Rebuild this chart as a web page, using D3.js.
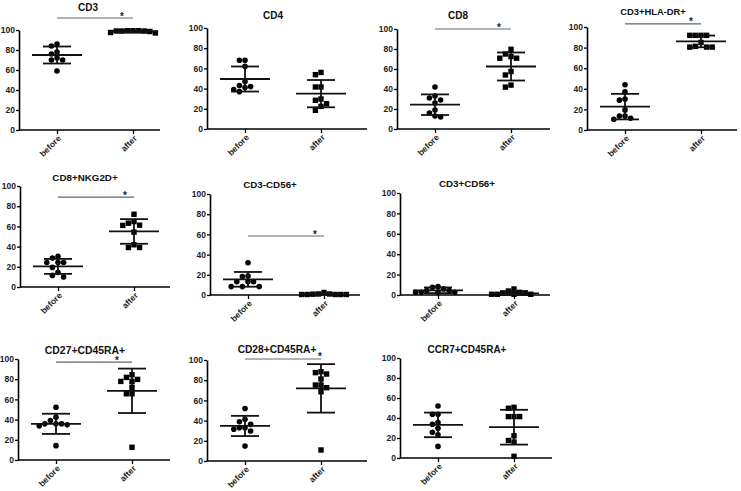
<!DOCTYPE html>
<html>
<head>
<meta charset="utf-8">
<script src="https://cdn.jsdelivr.net/npm/d3@7"></script>
<style>
  body { margin: 0; background: #fff; }
  svg text { font-family: "Liberation Sans", Arial, sans-serif; }
</style>
</head>
<body>
<div id="chart"></div>
<script>
// panel names
var titles = ["CD3", "CD4", "CD8", "CD3+HLA-DR+", "CD8+NKG2D+", "CD3-CD56+", "CD3+CD56+", "CD27+CD45RA+", "CD28+CD45RA+", "CCR7+CD45RA+"]
var groups = ["before", "after"]
var yTicks = [0, 20, 40, 60, 80, 100]

// individual values, one list per panel
var beforeValues = [
  [86, 84, 76, 78, 72, 70, 70, 59],
  [68, 68, 62, 47, 41, 43, 42, 37, 39],
  [42, 31, 33, 29, 26, 19, 16, 12, 13],
  [44, 37, 29, 30, 19.5, 13.6, 13.6, 10.4, 11.4],
  [28.6, 30.3, 24.3, 24.3, 24.3, 19.4, 14.5, 9.9, 11.5],
  [32, 18.2, 18.8, 13.2, 13.2, 13.2, 8.3, 8.3, 8.3],
  [6, 8.2, 7.5, 4.3, 4.3, 2.6, 2.6, 2.6, 2.6],
  [52.3, 42.4, 39, 35.8, 33.8, 34.8, 35.8, 35.8, 14.2],
  [52, 41.3, 38.9, 33, 36.3, 33, 31.4, 29.7, 14.9],
  [52, 43.7, 43.7, 35.4, 33.8, 29.8, 25.8, 23.2, 11.6]
]
var afterValues = [
  [99.3, 99.3, 98.5, 99, 97, 99, 97.5, 99, 99.3],
  [56, 53.8, 41.6, 41.6, 28.4, 29.7, 25, 22.4, 18.5],
  [79.7, 72.4, 70.8, 70.8, 75, 57.5, 54, 41.9, 43.9],
  [91.9, 91.9, 91.9, 91.9, 85, 80.5, 80.5, 80.5, 81.2],
  [72, 64.8, 61.2, 63.2, 54.3, 41.8, 39.1, 39.1, 61],
  [0.5, 0.5, 1, 2.5, 1, 0.5, 0.5, 0.5, 0.8],
  [2, 5.9, 2.6, 3.9, 0.7, 0.7, 0.7, 0.7, 2],
  [84.4, 79.8, 77.8, 81.8, 77.8, 71.9, 65.6, 65.6, 12.6],
  [87.5, 86.1, 88.4, 81.2, 75.2, 75.2, 72.6, 68.6, 10.9],
  [49.7, 50.7, 41.4, 41.4, 41.4, 22.2, 17.5, 15.9, 1.7]
]

// mean and SD as drawn
var beforeMean = [75, 49.5, 24.3, 22.7, 20.4, 15.5, 4.6, 35.8, 34.7, 33.1]
var beforeSD = [8.5, 12.4, 10.3, 12.4, 7.4, 7.3, 2.8, 10, 10, 12.3]
var afterMean = [98.5, 35, 62.5, 86, 55, 0.8, 1.6, 68.5, 71.9, 30.8]
var afterSD = [1, 13.5, 14, 5.7, 12.2, 0.7, 2, 22, 24, 17.4]

// level of the significance bar (null = none)
var sigLevel = [112, null, 100, 103, 89, 58.4, null, 97, 101, null]

// where each panel sits on the page
var layout = [
  { x: 19, top: 30, bot: 130, len: 141, tx: 88, ty: 11, fs: 10, star: -11 },
  { x: 207, top: 28, bot: 129, len: 160, tx: 273, ty: 19, fs: 10, star: 0 },
  { x: 397, top: 29, bot: 129, len: 153, tx: 458, ty: 19, fs: 10, star: -12 },
  { x: 587, top: 27, bot: 130, len: 150, tx: 653, ty: 15, fs: 9.4, star: -10 },
  { x: 20, top: 186, bot: 287, len: 150, tx: 85, ty: 181, fs: 9.8, star: -9 },
  { x: 210, top: 194, bot: 295, len: 150, tx: 270, ty: 188, fs: 9.8, star: -9 },
  { x: 400, top: 193, bot: 295, len: 150, tx: 467, ty: 187, fs: 9.8, star: 0 },
  { x: 18, top: 359, bot: 460, len: 152, tx: 85, ty: 353.5, fs: 10.4, star: -15 },
  { x: 207, top: 360, bot: 461, len: 160, tx: 277, ty: 353, fs: 10.2, star: -1 },
  { x: 400, top: 358, bot: 458, len: 152, tx: 467, ty: 353, fs: 10, star: 0 }
]

var svg = d3.select("#chart")
  .append("svg")
  .attr("width", 741)
  .attr("height", 491)

// simple beeswarm so overlapping points spread sideways
function swarm(vals, y, cx, d) {
  var placed = []
  var order = vals.map((v, i) => i).sort((a, b) => vals[b] - vals[a])
  var out = new Array(vals.length)
  order.forEach(i => {
    var py = y(vals[i])
    for (var k = 0; k < 40; k++) {
      var off = (k % 2 === 0 ? 1 : -1) * Math.ceil(k / 2) * d
      var px = cx + off
      var hit = placed.some(p => Math.hypot(p[0] - px, p[1] - py) < d - 0.3)
      if (!hit) { placed.push([px, py]); out[i] = [px, py]; break }
    }
  })
  return out
}

titles.forEach((t, i) => {
  var L = layout[i]
  var g = svg.append("g")

  var y = d3.scaleLinear().domain([0, 100]).range([L.bot, L.top])
  var x = d3.scalePoint().domain(groups).range([L.x + 38, L.x + 114])

  // y axis
  var ya = g.append("g")
    .attr("transform", "translate(" + L.x + ",0)")
    .call(d3.axisLeft(y).tickValues(yTicks).tickSize(3).tickSizeOuter(0).tickPadding(1))
  ya.select(".domain").attr("stroke", "#000").attr("stroke-width", 1.6)
  ya.selectAll(".tick line").attr("stroke", "#000").attr("stroke-width", 1.3)
  ya.selectAll(".tick text")
    .attr("font-size", 8.5).attr("font-weight", "bold").attr("fill", "#222")
    .attr("font-family", "Liberation Sans, Arial, sans-serif")

  // x axis
  var xa = g.append("g")
    .attr("transform", "translate(0," + L.bot + ")")
    .call(d3.axisBottom(x).tickSize(4).tickSizeOuter(0))
  xa.select(".domain").remove()
  xa.insert("line", ":first-child")
    .attr("x1", L.x).attr("x2", L.x + L.len)
    .attr("stroke", "#000").attr("stroke-width", 1.6)
  xa.selectAll(".tick line").attr("stroke", "#000").attr("stroke-width", 1.3)
  xa.selectAll(".tick text")
    .attr("font-size", 8.5).attr("font-weight", "bold").attr("fill", "#222")
    .attr("font-family", "Liberation Sans, Arial, sans-serif")
    .attr("text-anchor", "end")
    .attr("dy", null).attr("y", null)
    .attr("transform", "translate(4,9) rotate(-45)")

  // title
  g.append("text")
    .attr("x", L.tx).attr("y", L.ty)
    .attr("text-anchor", "middle")
    .attr("font-size", L.fs).attr("font-weight", "bold").attr("fill", "#111")
    .text(t)

  // significance bar
  if (sigLevel[i] !== null) {
    g.append("line")
      .attr("x1", x("before")).attr("x2", x("after"))
      .attr("y1", y(sigLevel[i])).attr("y2", y(sigLevel[i]))
      .attr("stroke", "#666").attr("stroke-width", 1.2)
    g.append("text")
      .attr("x", x("after") + L.star).attr("y", y(sigLevel[i]) + 1.5)
      .attr("text-anchor", "middle")
      .attr("font-size", 10).attr("font-weight", "bold").attr("fill", "#222")
      .text("*")
  }

  var sets = [
    { key: "before", vals: beforeValues[i], m: beforeMean[i], sd: beforeSD[i], shape: "circle" },
    { key: "after", vals: afterValues[i], m: afterMean[i], sd: afterSD[i], shape: "square" }
  ]

  sets.forEach(s => {
    var cx = x(s.key)
    var pts = swarm(s.vals, y, cx, 5.6)

    if (s.shape === "circle") {
      g.selectAll(null).data(pts).enter().append("circle")
        .attr("cx", d => d[0]).attr("cy", d => d[1])
        .attr("r", 2.8).attr("fill", "#000")
    } else {
      g.selectAll(null).data(pts).enter().append("rect")
        .attr("x", d => d[0] - 2.7).attr("y", d => d[1] - 2.7)
        .attr("width", 5.4).attr("height", 5.4).attr("fill", "#000")
    }

    // mean line, SD whisker and caps
    var hi = Math.min(s.m + s.sd, 100)
    var lo = Math.max(s.m - s.sd, 0)
    g.append("line")
      .attr("x1", cx - 25).attr("x2", cx + 25)
      .attr("y1", y(s.m)).attr("y2", y(s.m))
      .attr("stroke", "#111").attr("stroke-width", 1.8)
    g.append("line")
      .attr("x1", cx).attr("x2", cx)
      .attr("y1", y(hi)).attr("y2", y(lo))
      .attr("stroke", "#111").attr("stroke-width", 1.8)
    ;[hi, lo].forEach(v => {
      g.append("line")
        .attr("x1", cx - 14).attr("x2", cx + 14)
        .attr("y1", y(v)).attr("y2", y(v))
        .attr("stroke", "#111").attr("stroke-width", 1.8)
    })
  })
})
</script>
</body>
</html>
